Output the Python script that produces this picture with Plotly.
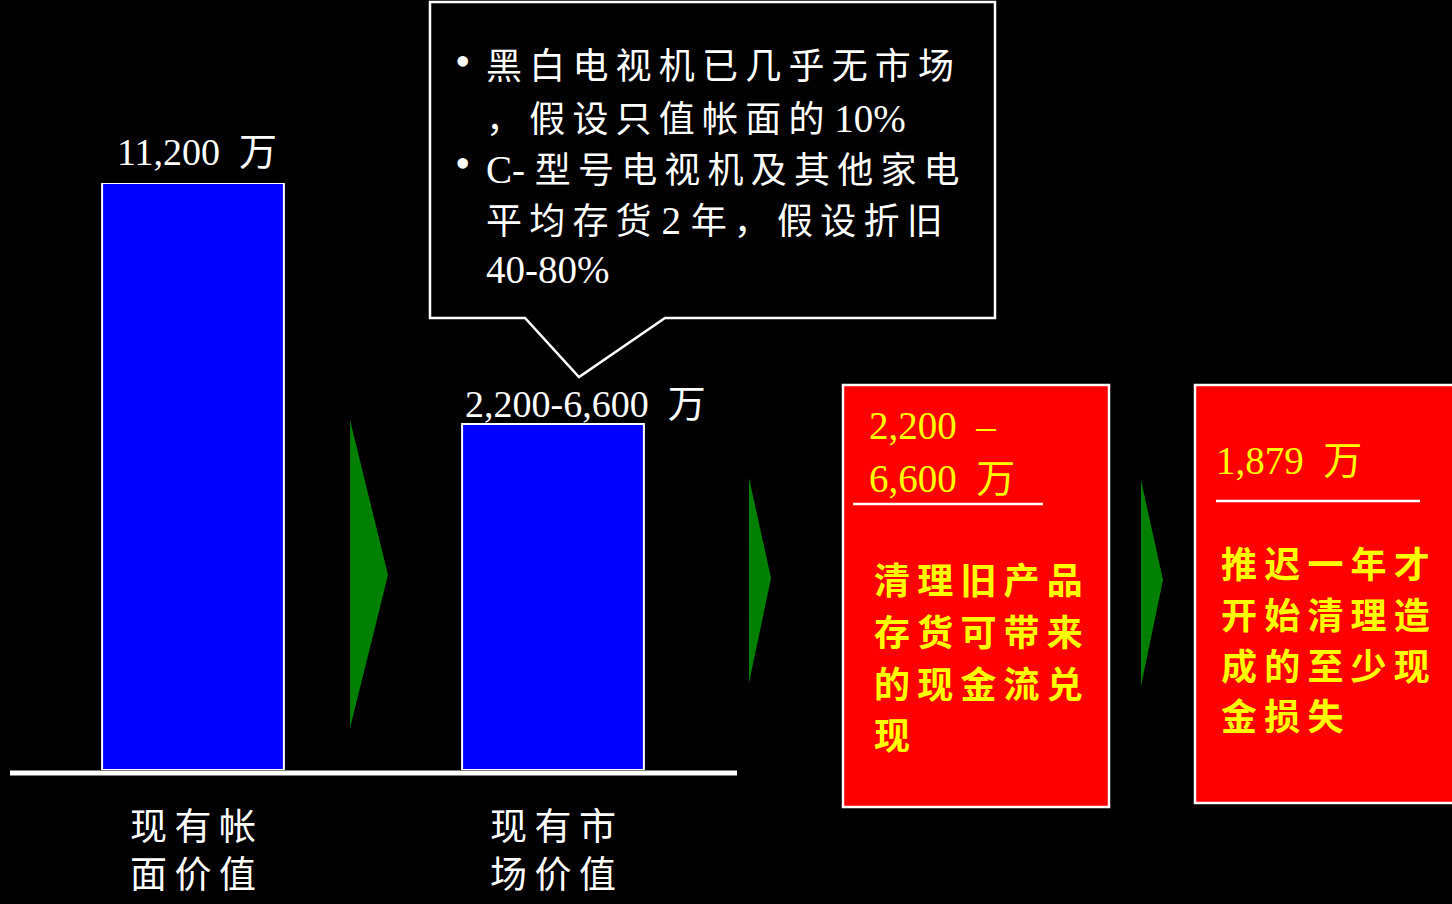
import plotly.graph_objects as go

W, H = 1452, 904

# Bar data (万元)
categories = ["现有帐<br>面价值", "现有市<br>场价值"]
values = [11200, 6600]
value_labels = ["11,200 万", "2,200-6,600 万"]

# Callout text
note_bullets = [
    ["黑白电视机已几乎无市场", "，假设只值帐面的 10%"],
    ["C- 型号电视机及其他家电", "平均存货 2 年，假设折旧", "40-80%"],
]

# Result boxes
box1_value = ["2,200  –", "6,600 万"]
box1_text = ["清理旧产品", "存货可带来", "的现金流兑", "现"]
box2_value = ["1,879 万"]
box2_text = ["推迟一年才", "开始清理造", "成的至少现", "金损失"]

SERIF = "Liberation Serif, Noto Sans CJK SC"
SANS = "Noto Sans CJK SC"
WHITE = "#FFFFFF"
YELLOW = "#FFFF00"


def is_wide(ch):
    o = ord(ch)
    return 0x3000 <= o <= 0x9FFF or 0xFF00 <= o <= 0xFFEF


def spaced(s, latin_size=None):
    """Open up the tracking between adjacent CJK characters with thin spaces;
    optionally enlarge runs of Latin characters."""
    out = []
    run = []

    def flush():
        if run:
            txt = "".join(run)
            if latin_size and txt.strip():
                out.append('<span style="font-size:%dpx">%s</span>' % (latin_size, txt))
            else:
                out.append(txt)
            run.clear()

    for i, ch in enumerate(s):
        if is_wide(ch):
            flush()
            out.append(ch)
            if i + 1 < len(s) and is_wide(s[i + 1]):
                out.append("\u2009")
        else:
            run.append(ch)
    flush()
    return "".join(out)


def px(x):
    return x / W


def py(y):
    return 1 - y / H


fig = go.Figure()
fig.add_trace(go.Bar(
    x=categories, y=values,
    marker=dict(color="#0000FF", line=dict(color=WHITE, width=2)),
    hoverinfo="skip",
))

annotations = []
shapes = []

# Value labels above the bars
for i, (cat, v, lab) in enumerate(zip(categories, values, value_labels)):
    annotations.append(dict(
        x=cat, y=v, xref="x", yref="y", text=lab.replace(" ", "\u2002"), showarrow=False,
        xanchor="center", yanchor="bottom", yshift=[8, -3][i], xshift=[4, 32][i],
        font=dict(family=SERIF, size=38, color=WHITE),
    ))

# Callout box with pointer
callout = "M %f %f L %f %f L %f %f L %f %f L %f %f L %f %f L %f %f Z" % (
    px(430), py(2), px(995), py(2), px(995), py(318), px(665), py(318),
    px(579), py(377), px(525), py(318), px(430), py(318))
shapes.append(dict(type="path", xref="paper", yref="paper", path=callout,
                   fillcolor="#000000", line=dict(color=WHITE, width=2.5)))

line_y = [67, 118, 169, 220, 270]
k = 0
for block in note_bullets:
    annotations.append(dict(
        x=px(453), y=py(line_y[k] - 6), xref="paper", yref="paper", text="•",
        showarrow=False, xanchor="left", yanchor="middle",
        font=dict(family=SERIF, size=44, color=WHITE)))
    for txt in block:
        annotations.append(dict(
            x=px(484), y=py(line_y[k]), xref="paper", yref="paper",
            text=spaced(txt, latin_size=39),
            showarrow=False, xanchor="left", yanchor="middle",
            font=dict(family=SERIF, size=36, color=WHITE)))
        k += 1

# Green arrows
for (x0, yt, xt, ym, yb) in [(350, 420, 388, 575, 728), (749, 478, 771, 578, 683),
                             (1141, 480, 1163, 580, 686)]:
    shapes.append(dict(
        type="path", xref="paper", yref="paper",
        path="M %f %f L %f %f L %f %f Z" % (px(x0), py(yt), px(xt), py(ym), px(x0), py(yb)),
        fillcolor="#008000", line=dict(width=0)))

# Red result boxes
shapes.append(dict(type="rect", xref="paper", yref="paper",
                   x0=px(843), x1=px(1109), y0=py(807), y1=py(385),
                   fillcolor="#FF0000", line=dict(color=WHITE, width=2.5)))
shapes.append(dict(type="rect", xref="paper", yref="paper",
                   x0=px(1195), x1=px(1460), y0=py(803), y1=py(385),
                   fillcolor="#FF0000", line=dict(color=WHITE, width=2.5)))

# Separator lines inside boxes
shapes.append(dict(type="line", xref="paper", yref="paper",
                   x0=px(853), x1=px(1043), y0=py(504), y1=py(504),
                   line=dict(color=WHITE, width=2.5)))
shapes.append(dict(type="line", xref="paper", yref="paper",
                   x0=px(1216), x1=px(1420), y0=py(501), y1=py(501),
                   line=dict(color=WHITE, width=2.5)))

for txt, y in zip(box1_value, [425, 478]):
    annotations.append(dict(
        x=px(867), y=py(y), xref="paper", yref="paper", text=txt.replace(" 万", "\u2002万"),
        showarrow=False, xanchor="left", yanchor="middle",
        font=dict(family=SERIF, size=39, color=YELLOW)))
for txt, y in zip(box2_value, [460]):
    annotations.append(dict(
        x=px(1214), y=py(y), xref="paper", yref="paper", text=txt.replace(" 万", "\u2002万"),
        showarrow=False, xanchor="left", yanchor="middle",
        font=dict(family=SERIF, size=39, color=YELLOW)))

for txt, y in zip(box1_text, [578, 630, 682, 733]):
    annotations.append(dict(
        x=px(872), y=py(y), xref="paper", yref="paper", text="<b>%s</b>" % spaced(txt),
        showarrow=False, xanchor="left", yanchor="middle",
        font=dict(family=SANS, size=36, color=YELLOW)))
for txt, y in zip(box2_text, [562, 613, 664, 714]):
    annotations.append(dict(
        x=px(1219), y=py(y), xref="paper", yref="paper", text="<b>%s</b>" % spaced(txt),
        showarrow=False, xanchor="left", yanchor="middle",
        font=dict(family=SANS, size=36, color=YELLOW)))

fig.update_layout(
    width=W, height=H,
    margin=dict(l=0, r=0, t=0, b=0),
    paper_bgcolor="#000000", plot_bgcolor="rgba(0,0,0,0)",
    showlegend=False,
    bargap=0.495,
    xaxis=dict(
        domain=[13 / W, 733 / W], range=[-0.5, 1.5], type="category",
        tickmode="array", tickvals=categories,
        ticktext=["<br>".join(spaced(p) for p in c.split("<br>")) for c in categories],
        showgrid=False, zeroline=False, showline=False,
        ticks="", ticklabelstandoff=32,
        tickfont=dict(family=SERIF, size=37, color=WHITE),
        fixedrange=True,
    ),
    yaxis=dict(
        domain=[1 - 770 / H, 1 - 183 / H], range=[0, 11200],
        showgrid=False, zeroline=False, showline=False, showticklabels=False,
        fixedrange=True,
    ),
    shapes=shapes + [dict(type="line", xref="paper", yref="paper",
                          x0=px(10), x1=px(737), y0=py(773), y1=py(773),
                          line=dict(color=WHITE, width=5))],
    annotations=annotations,
)

fig.write_html("out.html", config={"displayModeBar": False})
